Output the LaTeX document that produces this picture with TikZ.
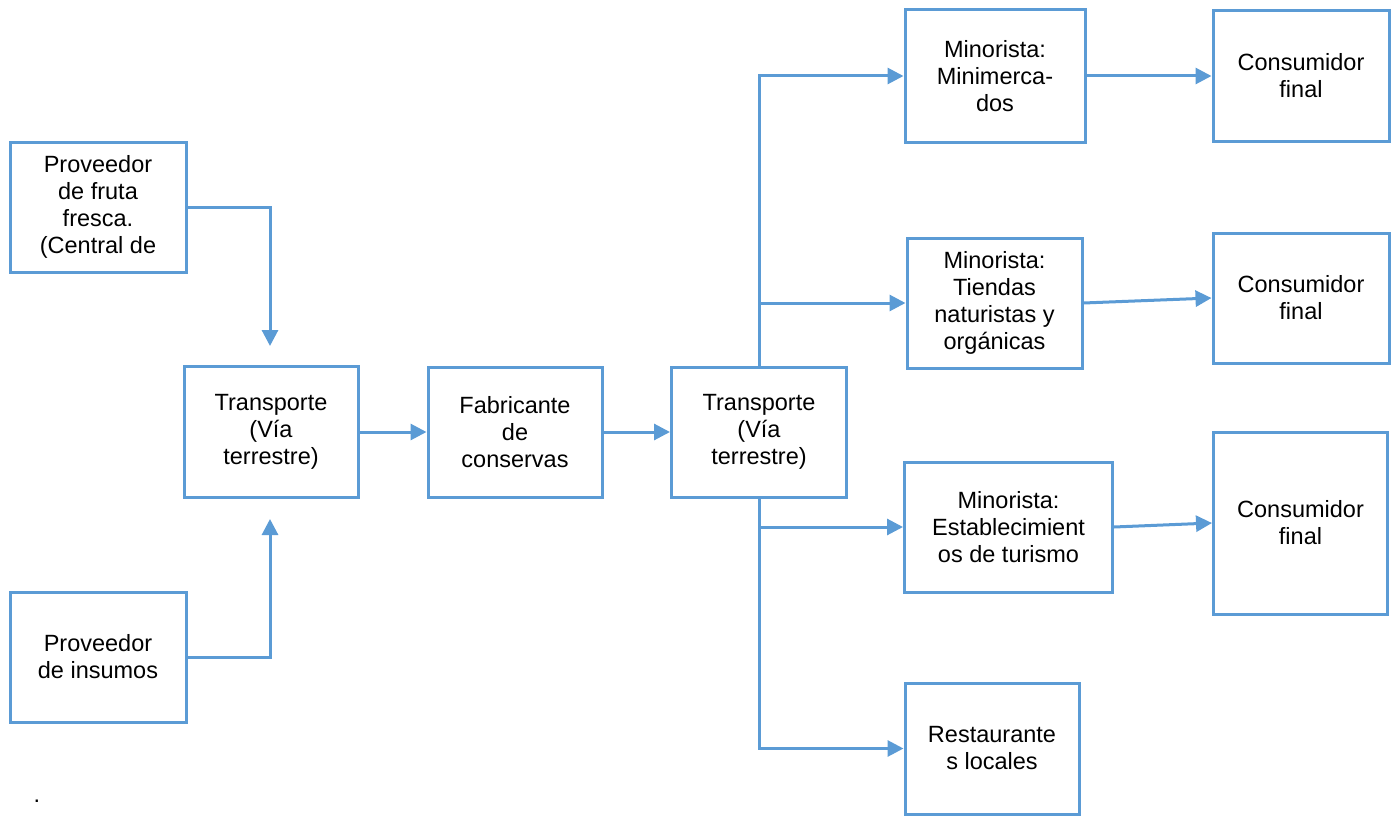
\documentclass[tikz,border=0pt]{standalone}
\usepackage{fontspec}
\setmainfont{Liberation Sans}
\usetikzlibrary{arrows.meta}
\definecolor{lineblue}{HTML}{5B9BD5}
\begin{document}
\begin{tikzpicture}[x=1pt,y=-1pt,
  box/.style={draw=lineblue, line width=3pt, inner sep=0pt, align=center,
    font=\fontsize{23.5}{27}\selectfont},
  arr/.style={draw=lineblue, line width=3pt, -{Triangle[length=16pt,width=16pt]}}]
\useasboundingbox (0,0) rectangle (1395,816);
\node[box, minimum width=176, minimum height=130] (fruta) at (98,207) {Proveedor\\de fruta\\fresca.\\(Central de};
\node[box, minimum width=176, minimum height=130] (insumos) at (98,657) {Proveedor\\de insumos};
\node[box, minimum width=174, minimum height=131] (t1) at (271,432) {Transporte\\(Vía\\terrestre)};
\node[box, minimum width=174, minimum height=130] (fab) at (515,432) {Fabricante\\de\\conservas};
\node[box, minimum width=175, minimum height=130] (t2) at (759,432) {Transporte\\(Vía\\terrestre)};
\node[box, minimum width=180, minimum height=132] (mini) at (995,76) {Minorista:\\Minimerca-\\dos};
\node[box, minimum width=175, minimum height=130] (tiendas) at (994.5,303) {Minorista:\\Tiendas\\naturistas y\\orgánicas};
\node[box, minimum width=208, minimum height=130] (estab) at (1008.5,527) {Minorista:\\Establecimient\\os de turismo};
\node[box, minimum width=174, minimum height=131] (rest) at (992,748.5) {Restaurante\\s locales};
\node[box, minimum width=176, minimum height=131] (c1) at (1301,76) {Consumidor\\final};
\node[box, minimum width=176, minimum height=130] (c2) at (1301,298) {Consumidor\\final};
\node[box, minimum width=174, minimum height=182] (c3) at (1300.5,523) {Consumidor\\final};
\node[anchor=base, inner sep=0pt, font=\fontsize{23.5}{27}\selectfont] (dot) at (37,802) {.};
\coordinate (a1) at (270,346);
\coordinate (a2) at (270,519);
\draw[arr] (fruta.east) -| (a1);
\draw[arr] (insumos.east) -| (a2);
\draw[arr] (t1.east) -- (fab.west);
\draw[arr] (fab.east) -- (t2.west);
\draw[arr] (t2.north) |- (mini.west);
\draw[arr] (t2.north |- tiendas.west) -- (tiendas.west);
\draw[arr] (t2.south) |- (rest.west);
\draw[arr] (t2.south |- estab.west) -- (estab.west);
\draw[arr] (mini.east) -- (c1.west);
\draw[arr] (tiendas.east) -- (c2.west);
\draw[arr] (estab.east) -- (c3.west);
\end{tikzpicture}
\end{document}
